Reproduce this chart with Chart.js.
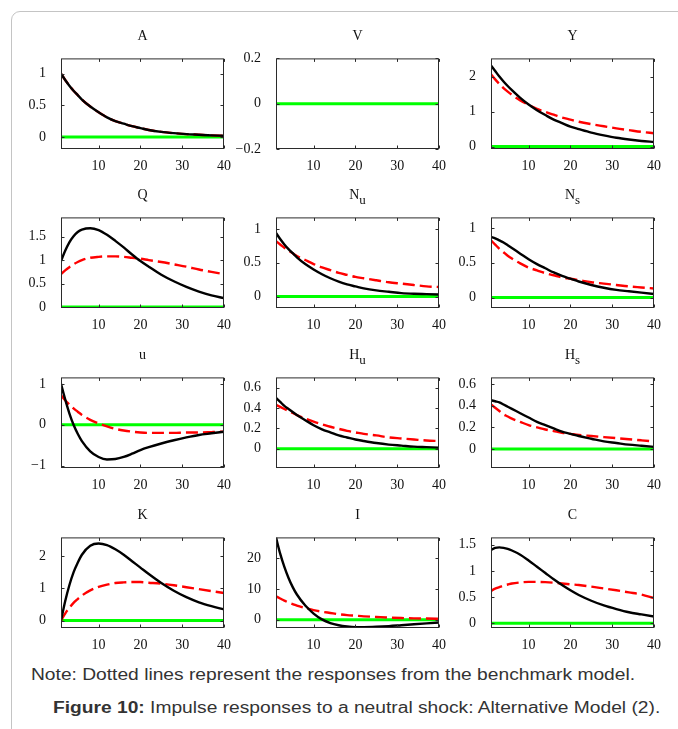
<!DOCTYPE html>
<html>
<head>
<meta charset="utf-8">
<script src="https://cdn.jsdelivr.net/npm/chart.js@4.4.0/dist/chart.umd.min.js"></script>
<style>
  body { margin: 0; width: 678px; height: 729px; overflow: hidden; position: relative; background: #fff; }
  .frame { position: absolute; left: 11px; top: 11px; width: 720px; height: 800px; border: 1px solid #c4c4c4; border-radius: 9px; }
  .panel { position: absolute; }
  .title { position: absolute; width: 163px; text-align: center; font: 14px 'Liberation Serif', serif; color: #111; }
  .title sub { font-size: 13px; vertical-align: -5px; }
  .note, .caption { position: absolute; font: 16px 'Liberation Sans', Arial, sans-serif; color: #333; white-space: nowrap; transform: scaleX(1.2); transform-origin: 0 0; }
  .note { left: 31px; top: 666px; }
  .caption { left: 53px; top: 699px; }
</style>
</head>
<body>
<div class="frame"></div>
<div id="grid"></div>
<div class="note">Note: Dotted lines represent the responses from the benchmark model.</div>
<div class="caption"><b>Figure 10:</b> Impulse responses to a neutral shock: Alternative Model (2).</div>
<script>
const periods = [1, 2, 3, 4, 5, 6, 8, 10, 12, 14, 16, 18, 20, 22, 25, 28, 31, 34, 37, 40]
const xTicks = [10, 20, 30, 40]

const aSolid = [1.0, 0.90, 0.81, 0.73, 0.66, 0.59, 0.48, 0.39, 0.31, 0.25, 0.21, 0.17, 0.14, 0.11, 0.08, 0.06, 0.045, 0.035, 0.025, 0.02]
const aDashed = [1.0, 0.90, 0.81, 0.73, 0.66, 0.59, 0.48, 0.39, 0.31, 0.25, 0.21, 0.17, 0.14, 0.11, 0.08, 0.06, 0.045, 0.035, 0.025, 0.02]

const ySolid = [2.32, 2.16, 2.0, 1.86, 1.73, 1.61, 1.39, 1.20, 1.04, 0.90, 0.77, 0.67, 0.57, 0.50, 0.40, 0.32, 0.25, 0.20, 0.16, 0.13]
const yDashed = [2.07, 1.92, 1.79, 1.67, 1.57, 1.48, 1.32, 1.19, 1.08, 0.99, 0.91, 0.83, 0.77, 0.71, 0.64, 0.58, 0.52, 0.47, 0.42, 0.38]

const qSolid = [0.98, 1.2, 1.38, 1.51, 1.6, 1.65, 1.68, 1.64, 1.54, 1.41, 1.27, 1.12, 0.98, 0.86, 0.69, 0.55, 0.43, 0.33, 0.25, 0.19]
const qDashed = [0.70, 0.78, 0.85, 0.91, 0.96, 1.0, 1.05, 1.07, 1.08, 1.08, 1.07, 1.05, 1.03, 1.0, 0.96, 0.91, 0.86, 0.80, 0.75, 0.70]

const nuSolid = [0.94, 0.85, 0.77, 0.70, 0.64, 0.58, 0.48, 0.40, 0.33, 0.27, 0.22, 0.18, 0.15, 0.12, 0.09, 0.07, 0.05, 0.04, 0.035, 0.03]
const nuDashed = [0.82, 0.77, 0.72, 0.68, 0.64, 0.60, 0.54, 0.48, 0.43, 0.39, 0.35, 0.32, 0.29, 0.27, 0.24, 0.21, 0.19, 0.17, 0.15, 0.14]

const nsSolid = [0.87, 0.85, 0.82, 0.79, 0.75, 0.71, 0.63, 0.55, 0.48, 0.42, 0.36, 0.31, 0.27, 0.23, 0.18, 0.14, 0.11, 0.09, 0.07, 0.05]
const nsDashed = [0.82, 0.76, 0.70, 0.65, 0.60, 0.56, 0.49, 0.43, 0.39, 0.35, 0.32, 0.29, 0.27, 0.25, 0.22, 0.20, 0.18, 0.16, 0.145, 0.13]

const uSolid = [1.0, 0.62, 0.28, 0.0, -0.22, -0.40, -0.65, -0.79, -0.85, -0.84, -0.79, -0.71, -0.62, -0.55, -0.46, -0.38, -0.31, -0.25, -0.21, -0.17]
const uDashed = [0.72, 0.60, 0.50, 0.40, 0.32, 0.24, 0.12, 0.03, -0.04, -0.10, -0.14, -0.17, -0.19, -0.20, -0.20, -0.20, -0.19, -0.19, -0.18, -0.17]

const huSolid = [0.50, 0.46, 0.42, 0.39, 0.36, 0.33, 0.28, 0.23, 0.19, 0.16, 0.13, 0.11, 0.09, 0.075, 0.055, 0.04, 0.03, 0.02, 0.015, 0.01]
const huDashed = [0.43, 0.41, 0.39, 0.37, 0.35, 0.33, 0.295, 0.265, 0.24, 0.215, 0.195, 0.175, 0.16, 0.145, 0.13, 0.11, 0.10, 0.09, 0.08, 0.075]

const hsSolid = [0.45, 0.44, 0.43, 0.41, 0.39, 0.37, 0.33, 0.29, 0.25, 0.22, 0.19, 0.16, 0.14, 0.12, 0.095, 0.07, 0.055, 0.04, 0.03, 0.02]
const hsDashed = [0.41, 0.38, 0.35, 0.32, 0.30, 0.28, 0.25, 0.22, 0.20, 0.18, 0.165, 0.15, 0.14, 0.13, 0.12, 0.11, 0.10, 0.09, 0.08, 0.07]

const kSolid = [0, 0.6, 1.1, 1.5, 1.8, 2.05, 2.33, 2.4, 2.35, 2.22, 2.05, 1.85, 1.65, 1.45, 1.17, 0.93, 0.73, 0.57, 0.45, 0.35]
const kDashed = [0, 0.22, 0.4, 0.55, 0.67, 0.78, 0.94, 1.05, 1.12, 1.17, 1.19, 1.2, 1.2, 1.18, 1.15, 1.10, 1.04, 0.98, 0.92, 0.86]

const iSolid = [26.8, 21.5, 17.2, 13.6, 10.6, 8.2, 4.6, 2.0, 0.1, -1.1, -1.8, -2.2, -2.4, -2.4, -2.3, -2.1, -1.8, -1.5, -1.2, -0.9]
const iDashed = [7.6, 6.9, 6.2, 5.6, 5.1, 4.6, 3.8, 3.1, 2.6, 2.2, 1.8, 1.5, 1.3, 1.1, 0.9, 0.7, 0.55, 0.45, 0.38, 0.32]

const cSolid = [1.40, 1.44, 1.45, 1.44, 1.42, 1.39, 1.31, 1.20, 1.08, 0.96, 0.84, 0.73, 0.63, 0.54, 0.43, 0.34, 0.27, 0.21, 0.17, 0.13]
const cDashed = [0.62, 0.66, 0.69, 0.72, 0.74, 0.76, 0.78, 0.79, 0.79, 0.785, 0.775, 0.76, 0.745, 0.73, 0.70, 0.665, 0.63, 0.59, 0.55, 0.48]

const zeroLine = [0, 0, 0, 0, 0, 0, 0, 0, 0, 0, 0, 0, 0, 0, 0, 0, 0, 0, 0, 0]

// y tick labels per panel
const aTicks = [0, 0.5, 1]
const vTicks = [-0.2, 0, 0.2]
const yTicks = [0, 1, 2]
const qTicks = [0, 0.5, 1, 1.5]
const nuTicks = [0, 0.5, 1]
const nsTicks = [0, 0.5, 1]
const uTicks = [-1, 0, 1]
const huTicks = [0, 0.2, 0.4, 0.6]
const hsTicks = [0, 0.2, 0.4, 0.6]
const kTicks = [0, 1, 2]
const iTicks = [0, 10, 20]
const cTicks = [0, 0.5, 1, 1.5]

const panels = [
  { title: 'A', solid: aSolid, dashed: aDashed, ticks: aTicks, min: -0.19, max: 1.24 },
  { title: 'V', solid: null, dashed: null, ticks: vTicks, min: -0.2, max: 0.2 },
  { title: 'Y', solid: ySolid, dashed: yDashed, ticks: yTicks, min: -0.07, max: 2.52 },
  { title: 'Q', solid: qSolid, dashed: qDashed, ticks: qTicks, min: -0.02, max: 1.91 },
  { title: 'N<sub>u</sub>', solid: nuSolid, dashed: nuDashed, ticks: nuTicks, min: -0.17, max: 1.17 },
  { title: 'N<sub>s</sub>', solid: nsSolid, dashed: nsDashed, ticks: nsTicks, min: -0.15, max: 1.15 },
  { title: 'u', solid: uSolid, dashed: uDashed, ticks: uTicks, min: -1.06, max: 1.16 },
  { title: 'H<sub>u</sub>', solid: huSolid, dashed: huDashed, ticks: huTicks, min: -0.19, max: 0.70 },
  { title: 'H<sub>s</sub>', solid: hsSolid, dashed: hsDashed, ticks: hsTicks, min: -0.175, max: 0.66 },
  { title: 'K', solid: kSolid, dashed: kDashed, ticks: kTicks, min: -0.23, max: 2.59 },
  { title: 'I', solid: iSolid, dashed: iDashed, ticks: iTicks, min: -2.7, max: 26.8 },
  { title: 'C', solid: cSolid, dashed: cDashed, ticks: cTicks, min: -0.09, max: 1.64 }
]

const colLefts = [61, 276, 491]
const rowTops = [53, 212, 372, 532]
const BOX_W = 163
const BOX_H = 96
const AXIS_W = 45
const AXIS_H = 29
const PAD_TOP = 10
const PAD_RIGHT = 14

// MATLAB-style box with inward ticks on all four sides
const boxPlugin = {
  id: 'matlabBox',
  afterDraw(chart) {
    const { ctx, chartArea: a, scales } = chart
    const l = a.left + 0.5, r = a.right - 0.5, t = a.top + 0.5, b = a.bottom - 0.5
    ctx.save()
    ctx.strokeStyle = '#2b2b2b'
    ctx.lineWidth = 1
    ctx.strokeRect(l, t, r - l, b - t)
    ctx.beginPath()
    scales.x.ticks.forEach(tk => {
      const px = Math.round(scales.x.getPixelForValue(tk.value)) + 0.5
      ctx.moveTo(px, b); ctx.lineTo(px, b - 3)
      ctx.moveTo(px, t); ctx.lineTo(px, t + 3)
    })
    scales.y.ticks.forEach(tk => {
      const py = Math.round(scales.y.getPixelForValue(tk.value)) + 0.5
      ctx.moveTo(l, py); ctx.lineTo(l + 3, py)
      ctx.moveTo(r, py); ctx.lineTo(r - 3, py)
    })
    ctx.stroke()
    ctx.restore()
  }
}

function points(values) {
  return periods.map((p, i) => ({ x: p, y: values[i] }))
}

function fmt(v) {
  return String(v).replace('-', '\u2212')
}

function buildPanel(p, idx) {
  const col = idx % 3
  const row = Math.floor(idx / 3)
  const left = colLefts[col]
  const top = rowTops[row]

  const wrap = document.createElement('div')
  wrap.className = 'panel'
  wrap.style.left = (left - AXIS_W) + 'px'
  wrap.style.top = (top - PAD_TOP) + 'px'
  const canvas = document.createElement('canvas')
  canvas.width = AXIS_W + BOX_W + PAD_RIGHT
  canvas.height = PAD_TOP + BOX_H + AXIS_H
  wrap.appendChild(canvas)
  document.getElementById('grid').appendChild(wrap)

  const title = document.createElement('div')
  title.className = 'title'
  title.style.left = left + 'px'
  title.style.top = (top - 25) + 'px'
  title.innerHTML = p.title
  document.getElementById('grid').appendChild(title)

  const datasets = []
  if (p.solid) {
    datasets.push({ data: points(p.solid), borderColor: '#000', borderWidth: 2.4 })
    datasets.push({ data: points(p.dashed), borderColor: '#ff0000', borderWidth: 2.4, borderDash: [12, 5] })
  }
  datasets.push({ data: points(zeroLine), borderColor: '#00ff00', borderWidth: 3 })

  new Chart(canvas.getContext('2d'), {
    type: 'line',
    data: { datasets },
    options: {
      responsive: false,
      animation: false,
      layout: { padding: { top: PAD_TOP, right: PAD_RIGHT, left: 0, bottom: 0 } },
      elements: { point: { radius: 0 }, line: { cubicInterpolationMode: 'monotone', fill: false } },
      plugins: { legend: { display: false }, tooltip: { enabled: false } },
      scales: {
        x: {
          type: 'linear', min: 1, max: 40,
          afterBuildTicks: s => { s.ticks = xTicks.map(v => ({ value: v })) },
          afterFit: s => { s.height = AXIS_H },
          grid: { display: false },
          border: { display: false },
          ticks: { color: '#111', padding: 1, maxRotation: 0, font: { family: 'Liberation Serif', size: 14 } }
        },
        y: {
          type: 'linear', min: p.min, max: p.max,
          afterBuildTicks: s => { s.ticks = p.ticks.map(v => ({ value: v })) },
          afterFit: s => { s.width = AXIS_W },
          grid: { display: false },
          border: { display: false },
          ticks: { color: '#111', padding: 7, callback: v => fmt(v), font: { family: 'Liberation Serif', size: 14 } }
        }
      }
    },
    plugins: [boxPlugin]
  })
}

panels.forEach(buildPanel)
</script>
</body>
</html>
